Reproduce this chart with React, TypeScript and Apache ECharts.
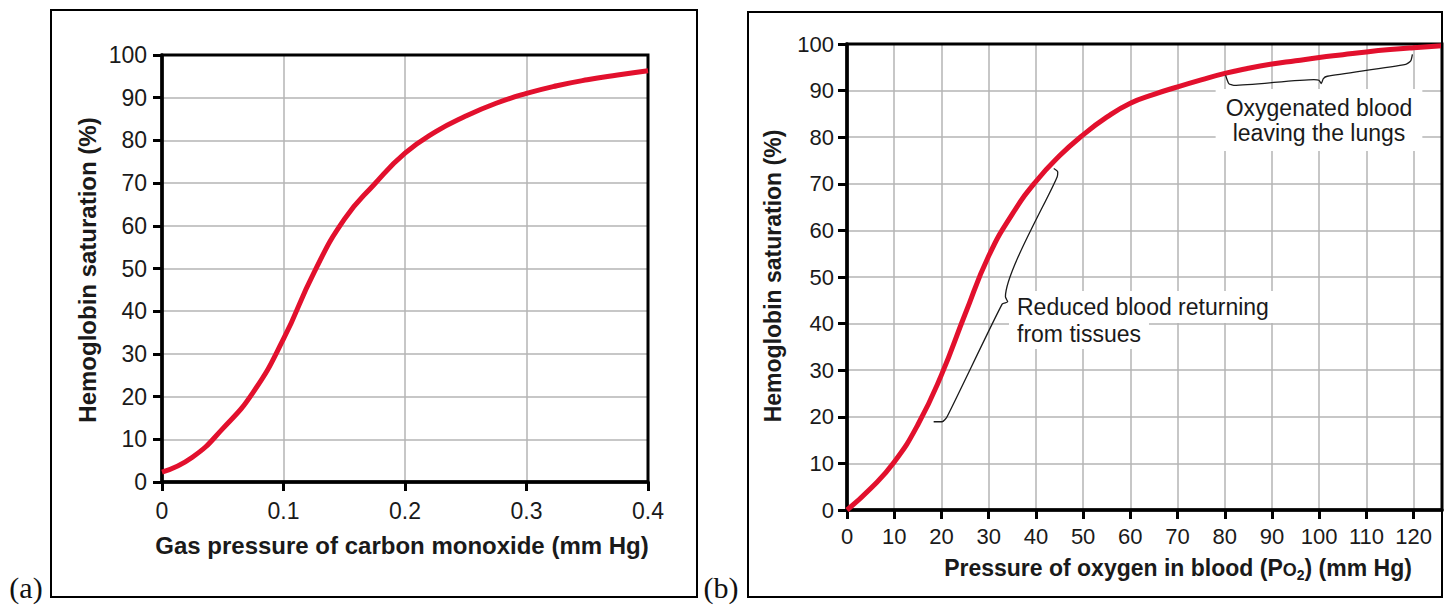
import React, { useEffect, useRef } from "react";
import * as echarts from "echarts";

// ---- Panel (a): CO dissociation curve ----
const coPressure = [0, 0.025, 0.05, 0.075, 0.1, 0.125, 0.15, 0.175, 0.2, 0.225, 0.25, 0.275, 0.3, 0.325, 0.35, 0.375, 0.4];
const coSaturation = [2.3, 5.8, 12.5, 21, 33.5, 49, 61.5, 69.8, 77, 82, 85.7, 88.7, 91, 92.8, 94.2, 95.3, 96.3];
const coTicks = [0, 0.1, 0.2, 0.3, 0.4];

// ---- Panel (b): O2 dissociation curve ----
const o2Pressure = [0, 5, 10, 15, 20, 25, 30, 35, 40, 45, 50, 55, 60, 65, 70, 75, 80, 85, 90, 95, 100, 105, 110, 115, 120, 126];
const o2Saturation = [0, 4.6, 10.3, 18.3, 29, 42, 54.5, 63.5, 70.5, 76, 80.5, 84.3, 87.3, 89.2, 90.8, 92.3, 93.7, 94.8, 95.7, 96.4, 97.1, 97.7, 98.3, 98.8, 99.2, 99.6];
const o2Ticks = [0, 10, 20, 30, 40, 50, 60, 70, 80, 90, 100, 110, 120];
const satTicks = [0, 10, 20, 30, 40, 50, 60, 70, 80, 90, 100];

// Annotation braces (data coordinates of panel b)
const braceReducedX = [18.35, 20.13, 21.19, 32.85, 34.03, 33.55, 44.5, 44.63, 43.78];
const braceReducedY = [18.94, 18.94, 20.01, 44.18, 44.67, 45.75, 71.48, 72.55, 73.28];
const braceOxyX = [80.17, 80.86, 81.92, 98.88, 99.94, 100.44, 100.87, 101.72, 118.31, 119.37, 119.73];
const braceOxyY = [93.29, 91.51, 91.14, 92.37, 92.22, 91.51, 92.58, 93.08, 95.65, 96.36, 97.79];

const titleA_X = "Gas pressure of carbon monoxide (mm Hg)";
const titleY = "Hemoglobin saturation (%)";
const noteOxy = ["Oxygenated blood", "leaving the lungs"];
const noteReduced = ["Reduced blood returning", "from tissues"];

const zip = (xs: number[], ys: number[]) => xs.map((x, i) => [x, ys[i]]);

const SANS = "Liberation Sans";
const LABEL_COLOR = "#1a1a1a";
const GRID_COLOR = "#b5b5b5";
const CURVE_COLOR = "#e2102d";

function makeXAxis(gridIndex: number, min: number, max: number, interval: number, ticks: number[], fontSize: number, margin: number) {
  return {
    type: "value",
    gridIndex,
    min,
    max,
    interval,
    z: 0,
    axisLine: { show: true, onZero: false, lineStyle: { color: "#000", width: 3.5 } },
    axisTick: { show: true, length: 9, customValues: ticks, lineStyle: { color: "#000", width: 3 } },
    axisLabel: {
      margin,
      customValues: ticks,
      color: LABEL_COLOR,
      fontFamily: SANS,
      fontSize,
      formatter: (v: number) => (ticks.some((t) => Math.abs(t - v) < 1e-9) ? String(+v.toFixed(2)) : ""),
    },
    splitLine: { show: true, lineStyle: { color: GRID_COLOR, width: 1.5 } },
  };
}

function makeYAxis(gridIndex: number, fontSize: number, margin: number) {
  return {
    type: "value",
    gridIndex,
    min: 0,
    max: 100,
    interval: 10,
    z: 0,
    axisLine: { show: true, onZero: false, lineStyle: { color: "#000", width: 3.5 } },
    axisTick: { show: true, length: 9, lineStyle: { color: "#000", width: 3 } },
    axisLabel: { margin, color: LABEL_COLOR, fontFamily: SANS, fontSize, customValues: satTicks },
    splitLine: { show: true, lineStyle: { color: GRID_COLOR, width: 1.5 } },
  };
}

export default function App() {
  const ref = useRef<HTMLDivElement>(null);

  useEffect(() => {
    if (!ref.current) return;
    const chart = echarts.init(ref.current, undefined, { renderer: "svg" });

    const textEl = (x: number, y: number, text: string, extra: any = {}, elExtra: any = {}) => ({
      type: "text",
      x,
      y,
      z: 50,
      silent: true,
      ...elExtra,
      style: {
        text,
        fill: LABEL_COLOR,
        fontFamily: SANS,
        fontSize: 23,
        align: "center",
        verticalAlign: "middle",
        ...extra,
      },
    });

    chart.setOption({
      animation: false,
      backgroundColor: "#fff",
      textStyle: { fontFamily: SANS },
      grid: [
        { left: 162, top: 55, width: 486, height: 427, show: true, z: 1, borderColor: "#000", borderWidth: 3, backgroundColor: "transparent" },
        { left: 847, top: 44, width: 595, height: 466, show: true, z: 1, borderColor: "#000", borderWidth: 3, backgroundColor: "transparent" },
      ],
      xAxis: [
        makeXAxis(0, 0, 0.4, 0.1, coTicks, 23, 17),
        makeXAxis(1, 0, 126, 10, o2Ticks, 22, 15),
      ],
      yAxis: [makeYAxis(0, 23, 15), makeYAxis(1, 22, 13)],
      series: [
        {
          type: "line",
          xAxisIndex: 0,
          yAxisIndex: 0,
          data: zip(coPressure, coSaturation),
          symbol: "none",
          smooth: 0.5,
          lineStyle: { color: CURVE_COLOR, width: 5 },
          z: 5,
          silent: true,
        },
        {
          type: "line",
          xAxisIndex: 1,
          yAxisIndex: 1,
          data: zip(o2Pressure, o2Saturation),
          symbol: "none",
          smooth: 0.5,
          lineStyle: { color: CURVE_COLOR, width: 5 },
          z: 5,
          silent: true,
        },
        {
          type: "line",
          xAxisIndex: 1,
          yAxisIndex: 1,
          data: zip(braceReducedX, braceReducedY),
          symbol: "none",
          smooth: 0.2,
          lineStyle: { color: "#1a1a1a", width: 1.3 },
          z: 6,
          silent: true,
        },
        {
          type: "line",
          xAxisIndex: 1,
          yAxisIndex: 1,
          data: zip(braceOxyX, braceOxyY),
          symbol: "none",
          smooth: 0.2,
          lineStyle: { color: "#1a1a1a", width: 1.3 },
          z: 6,
          silent: true,
        },
      ],
      graphic: [
        { type: "rect", z: 60, silent: true, shape: { x: 51, y: 10, width: 646, height: 587 }, style: { fill: "none", stroke: "#000", lineWidth: 2 } },
        { type: "rect", z: 60, silent: true, shape: { x: 748, y: 12, width: 694, height: 585 }, style: { fill: "none", stroke: "#000", lineWidth: 2 } },
        textEl(26, 587, "(a)", { fontFamily: "Liberation Serif", fontSize: 30, fill: "#111" }),
        textEl(721, 587, "(b)", { fontFamily: "Liberation Serif", fontSize: 30, fill: "#111" }),
        // axis titles panel a
        textEl(87, 270, titleY, { fontWeight: "bold", fontSize: 24 }, { rotation: Math.PI / 2 }),
        textEl(402, 545, titleA_X, { fontWeight: "bold", fontSize: 24 }),
        // axis titles panel b
        textEl(773, 276, titleY, { fontWeight: "bold", fontSize: 23 }, { rotation: Math.PI / 2 }),
        textEl(1178, 568, "{n|Pressure of oxygen in blood (P}{s|O}{sub|2}{n|) (mm Hg)}", {
          rich: {
            n: { fontWeight: "bold", fontSize: 23, fontFamily: SANS, fill: LABEL_COLOR },
            s: { fontWeight: "bold", fontSize: 18, fontFamily: SANS, fill: LABEL_COLOR, padding: [3, 0, 0, 0] },
            sub: { fontWeight: "bold", fontSize: 14, fontFamily: SANS, fill: LABEL_COLOR, padding: [14, 0, 0, 0] },
          },
        }),
        // annotations
        textEl(1319, 120, noteOxy.join("\n"), {
          lineHeight: 25,
          backgroundColor: "#fff",
          padding: [6, 10, 6, 10],
        }),
        textEl(1017, 307, noteReduced[0], {
          align: "left",
          backgroundColor: "#fff",
          padding: [3, 8, 6, 8],
        }, { x: 1009 }),
        textEl(1017, 334, noteReduced[1], {
          align: "left",
          backgroundColor: "#fff",
          padding: [3, 8, 4, 8],
        }, { x: 1009 }),
      ],
    });

    return () => chart.dispose();
  }, []);

  return (
    <div
      ref={ref}
      style={{ position: "absolute", left: 0, top: 0, width: 1448, height: 606, background: "#fff" }}
    />
  );
}
